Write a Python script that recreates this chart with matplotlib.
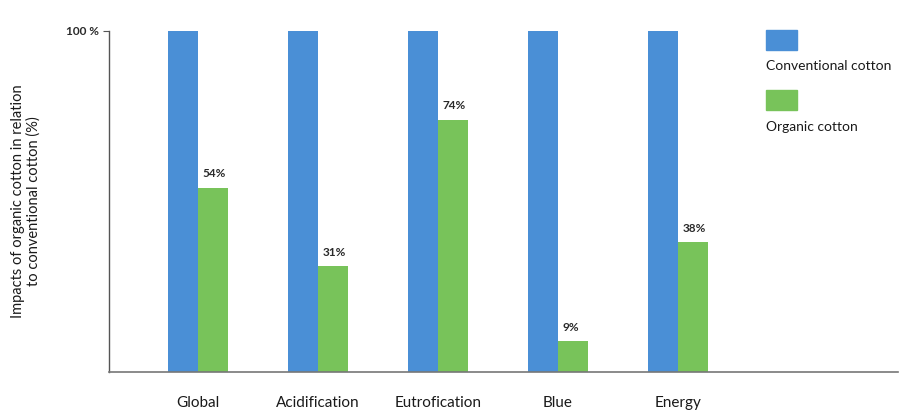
import matplotlib.pyplot as plt
from matplotlib.patches import Rectangle

plt.rcParams['font.family'] = ['Lato', 'DejaVu Sans']

# impact categories and values (conventional = 100 %)
categories = ['Global', 'Acidification', 'Eutrofication', 'Blue', 'Energy']
conventional = [100, 100, 100, 100, 100]
organic = [54, 31, 74, 9, 38]
value_labels = ['54%', '31%', '74%', '9%', '38%']
ylabel_lines = ['Impacts of organic cotton in relation', 'to conventional cotton (%)']

blue = '#4a8fd6'
green = '#78c35a'
ink = '#1a1a1a'

fig = plt.figure(figsize=(9.06, 4.12), dpi=100)
ax = fig.add_axes([0.1203, 0.0971, 0.8709, 0.8277])

x = list(range(len(categories)))
w = 0.25
ax.bar([i - w / 2 for i in x], conventional, width=w, color=blue)
ax.bar([i + w / 2 for i in x], organic, width=w, color=green)

for i, v in enumerate(organic):
    ax.text(i + 0.04, v + 2.5, value_labels[i], fontsize=8.5, fontweight='bold',
            color='#2a2a2a', ha='left', va='bottom')

ax.set_xlim(-0.742, 5.833)
ax.set_ylim(0, 100)
ax.set_yticks([100])
ax.set_yticklabels(['100 %'], fontsize=8.5, fontweight='bold', color='#2a2a2a')
ax.tick_params(axis='y', length=4, width=0.8, color='#555555', pad=3)
ax.set_xticks(x)
ax.set_xticklabels(categories, fontsize=11, color=ink)
ax.tick_params(axis='x', length=0, pad=17)

for s in ['top', 'right']:
    ax.spines[s].set_visible(False)
ax.spines['left'].set_color('#555555')
ax.spines['bottom'].set_color('#777777')
ax.spines['left'].set_linewidth(1.0)
ax.spines['bottom'].set_linewidth(1.2)

# y-axis title: each line centred on its own
for k, line in enumerate(ylabel_lines):
    fig.text((18 + 16 * k) / 906, 1 - 201 / 412, line, fontsize=10.5, color=ink,
             rotation=90, ha='center', va='center')

# legend drawn as plain patches and text
fig.add_artist(Rectangle((766 / 906, 1 - 50 / 412), 31 / 906, 20 / 412,
                         transform=fig.transFigure, color=blue))
fig.text(766 / 906, 1 - 66 / 412, 'Conventional cotton', fontsize=10,
         color=ink, va='center', ha='left')
fig.add_artist(Rectangle((766 / 906, 1 - 110 / 412), 31 / 906, 20 / 412,
                         transform=fig.transFigure, color=green))
fig.text(766 / 906, 1 - 127 / 412, 'Organic cotton', fontsize=10,
         color=ink, va='center', ha='left')

fig.savefig('out.png', dpi=100)
